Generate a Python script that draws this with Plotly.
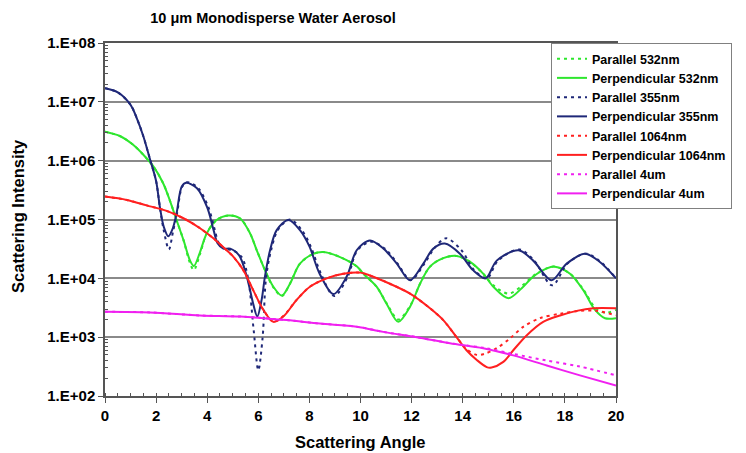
import plotly.graph_objects as go

# ---------------- data ----------------
# 355 nm perpendicular (solid) and parallel (dotted)
x_perp355 = [0, 0.5, 1.0, 1.25, 1.5, 1.75, 2.0, 2.15, 2.3, 2.48, 2.65, 2.8, 3.0, 3.17, 3.6, 4.0,
             4.25, 4.4, 4.63, 4.9, 5.25, 5.55, 5.8, 5.96, 6.13, 6.26, 6.46, 6.72, 7.18, 7.63,
             8.0, 8.4, 8.94, 9.46, 9.85, 10.37, 10.9, 11.42, 11.94, 12.46, 12.85, 13.3, 13.9,
             14.4, 14.9, 15.33, 16.18, 16.76, 17.48, 18.07, 18.79, 19.37, 20]
y_perp355 = [1.7e7, 1.45e7, 8.9e6, 5.2e6, 2.6e6, 1.1e6, 4.5e5, 1.6e5, 7.5e4, 5.2e4, 7.0e4, 1.26e5,
             3.6e5, 4.2e5, 3.4e5, 1.6e5, 6.6e4, 4.0e4, 3.2e4, 3.2e4, 2.45e4, 1.07e4, 3.7e3,
             2.25e3, 4.3e3, 1.07e4, 3.0e4, 6.6e4, 9.8e4, 6.6e4, 3.5e4, 1.2e4, 5.4e3, 1.07e4,
             3.0e4, 4.4e4, 3.2e4, 1.78e4, 9.3e3, 1.78e4, 3.2e4, 3.9e4, 2.6e4, 1.38e4, 1.0e4,
             2.0e4, 3.0e4, 2.0e4, 9.3e3, 1.78e4, 2.63e4, 1.9e4, 1.0e4]

x_par355 = [0, 0.5, 1.0, 1.25, 1.5, 1.75, 2.0, 2.15, 2.3, 2.5, 2.67, 2.82, 3.02, 3.22, 3.65, 4.05,
            4.3, 4.45, 4.7, 5.0, 5.35, 5.6, 5.82, 6.0, 6.17, 6.3, 6.5, 6.78, 7.25, 7.7,
            8.05, 8.45, 8.97, 9.5, 9.88, 10.42, 10.95, 11.45, 11.96, 12.5, 12.9, 13.35, 13.95,
            14.45, 14.95, 15.38, 16.22, 16.8, 17.5, 18.1, 18.82, 19.4, 20]
y_par355 = [1.7e7, 1.45e7, 8.9e6, 5.2e6, 2.6e6, 1.1e6, 4.5e5, 1.6e5, 6.5e4, 3.1e4, 6.5e4, 1.26e5,
            3.6e5, 4.3e5, 3.4e5, 1.6e5, 6.6e4, 4.0e4, 3.2e4, 3.0e4, 2.3e4, 1.0e4, 1.3e3,
            2.75e2, 1.0e3, 1.0e4, 3.0e4, 6.8e4, 1.0e5, 6.6e4, 3.5e4, 1.2e4, 5.0e3, 1.07e4,
            3.0e4, 4.2e4, 3.2e4, 1.78e4, 9.3e3, 1.78e4, 3.3e4, 4.8e4, 3.0e4, 1.38e4, 1.0e4,
            2.0e4, 3.1e4, 2.0e4, 7.6e3, 1.78e4, 2.63e4, 1.9e4, 1.0e4]

# 532 nm
x_perp532 = [0, 0.6, 1.1, 1.5, 1.9, 2.28, 2.54, 2.8, 3.07, 3.33, 3.48, 3.72, 3.98, 4.37, 4.83,
             5.28, 5.68, 5.94, 6.26, 6.59, 6.92, 7.24, 7.63, 8.15, 8.54, 9.2, 9.85, 10.11, 10.63,
             11.02, 11.48, 11.94, 12.33, 12.72, 13.24, 13.76, 14.29, 14.8, 15.2, 15.79, 16.31,
             16.76, 17.29, 17.61, 18.2, 18.72, 19.18, 19.57, 20]
y_perp532 = [3.1e6, 2.6e6, 1.86e6, 1.26e6, 7.9e5, 4.1e5, 2.1e5, 9.8e4, 4.5e4, 2.0e4, 1.62e4, 2.8e4,
             5.8e4, 9.8e4, 1.17e5, 1.05e5, 5.8e4, 3.0e4, 1.38e4, 7.2e3, 5.1e3, 8.1e3, 1.78e4,
             2.6e4, 2.8e4, 2.3e4, 1.6e4, 1.2e4, 7.2e3, 3.7e3, 1.82e3, 3.3e3, 8.1e3, 1.58e4,
             2.2e4, 2.4e4, 1.9e4, 1.2e4, 7.2e3, 4.6e3, 6.8e3, 1.07e4, 1.48e4, 1.58e4, 1.2e4,
             6.3e3, 2.9e3, 2.1e3, 2.1e3]

x_par532 = x_perp532
y_par532 = [3.1e6, 2.6e6, 1.86e6, 1.26e6, 7.9e5, 4.1e5, 2.1e5, 9.8e4, 4.5e4, 1.8e4, 1.38e4, 2.6e4,
            5.8e4, 9.8e4, 1.17e5, 1.05e5, 5.8e4, 3.0e4, 1.38e4, 7.0e3, 5.0e3, 8.1e3, 1.78e4,
            2.6e4, 2.8e4, 2.3e4, 1.6e4, 1.2e4, 7.2e3, 3.8e3, 2.0e3, 3.4e3, 8.1e3, 1.58e4,
            2.2e4, 2.4e4, 1.9e4, 1.2e4, 7.6e3, 5.5e3, 7.4e3, 1.1e4, 1.48e4, 1.58e4, 1.2e4,
            6.5e3, 3.2e3, 2.6e3, 2.9e3]

# 1064 nm
x_perp1064 = [0, 0.85, 1.63, 2.41, 3.07, 3.72, 4.24, 4.76, 5.02, 5.41, 5.8, 6.2, 6.59, 6.98, 7.5,
              8.02, 8.68, 9.33, 10.0, 10.37, 11.15, 11.94, 12.72, 13.24, 13.76, 14.15, 14.55,
              14.94, 15.13, 15.59, 15.98, 16.5, 17.15, 17.81, 18.46, 19.11, 20]
y_perp1064 = [2.45e5, 2.15e5, 1.74e5, 1.4e5, 1.05e5, 7.1e4, 4.8e4, 3.0e4, 2.34e4, 1.38e4, 6.3e3,
              2.9e3, 1.82e3, 2.24e3, 4.3e3, 7.2e3, 1.0e4, 1.2e4, 1.25e4, 1.12e4, 8.1e3, 5.5e3,
              3.1e3, 1.95e3, 1.0e3, 6.0e2, 4.1e2, 3.1e2, 3.05e2, 3.8e2, 6.0e2, 1.07e3, 1.82e3,
              2.34e3, 2.8e3, 3.1e3, 3.1e3]

x_par1064 = [0, 0.85, 1.63, 2.41, 3.07, 3.72, 4.24, 4.76, 5.02, 5.41, 5.8, 6.2, 6.59, 6.98, 7.5,
             8.02, 8.68, 9.33, 10.0, 10.37, 11.15, 11.94, 12.72, 13.24, 13.76, 14.15, 14.55,
             14.87, 15.33, 15.85, 16.37, 17.02, 17.81, 18.59, 19.24, 20]
y_par1064 = [2.45e5, 2.15e5, 1.74e5, 1.4e5, 1.05e5, 7.1e4, 4.8e4, 3.0e4, 2.34e4, 1.38e4, 6.3e3,
             2.9e3, 1.85e3, 2.3e3, 4.3e3, 7.2e3, 1.0e4, 1.2e4, 1.25e4, 1.12e4, 8.1e3, 5.5e3,
             3.1e3, 1.95e3, 1.0e3, 6.3e2, 5.0e2, 5.25e2, 6.5e2, 9.5e2, 1.5e3, 2.1e3, 2.5e3,
             2.8e3, 2.8e3, 2.35e3]

# 4 um
x_perp4 = [0, 1.76, 3.72, 5.3, 7.11, 8.41, 9.85, 10.89, 12.2, 13.5, 14.8, 15.98, 17.29, 18.59, 20]
y_perp4 = [2.7e3, 2.63e3, 2.34e3, 2.24e3, 1.95e3, 1.7e3, 1.51e3, 1.23e3, 1.0e3, 7.9e2, 6.5e2,
           4.9e2, 3.3e2, 2.24e2, 1.5e2]
x_par4 = x_perp4
y_par4 = [2.7e3, 2.63e3, 2.34e3, 2.24e3, 1.95e3, 1.7e3, 1.51e3, 1.23e3, 1.0e3, 7.9e2, 6.6e2,
          5.2e2, 4.0e2, 3.16e2, 2.24e2]

y_tickvals = [1e2, 1e3, 1e4, 1e5, 1e6, 1e7, 1e8]
y_ticktext = ["1.E+02", "1.E+03", "1.E+04", "1.E+05", "1.E+06", "1.E+07", "1.E+08"]

# ---------------- styling ----------------
GREEN = "#2EE62E"
BLUE = "#1F2878"
RED = "#FF2020"
MAGENTA = "#F020F0"
DOT = "3px,4px"
FONT = "Arial, Liberation Sans, sans-serif"

series = [
    ("Parallel 532nm", x_par532, y_par532, GREEN, DOT),
    ("Perpendicular 532nm", x_perp532, y_perp532, GREEN, "solid"),
    ("Parallel 355nm", x_par355, y_par355, BLUE, DOT),
    ("Perpendicular 355nm", x_perp355, y_perp355, BLUE, "solid"),
    ("Parallel 1064nm", x_par1064, y_par1064, RED, DOT),
    ("Perpendicular 1064nm", x_perp1064, y_perp1064, RED, "solid"),
    ("Parallel 4um", x_par4, y_par4, MAGENTA, DOT),
    ("Perpendicular 4um", x_perp4, y_perp4, MAGENTA, "solid"),
]

fig = go.Figure()
for name, xs, ys, col, dash in series:
    fig.add_trace(go.Scatter(
        x=xs, y=ys, mode="lines", name=name,
        line=dict(color=col, width=2, dash=dash, shape="spline", smoothing=0.9),
    ))

minor_vals = [m * 10 ** e for e in range(2, 8) for m in range(2, 10)]

fig.update_layout(
    width=746, height=453,
    margin=dict(l=105, r=130, t=43, b=57),
    paper_bgcolor="white", plot_bgcolor="white",
    font=dict(family=FONT, color="black"),
    title=dict(text="<b>10 \u03bcm Monodisperse Water Aerosol</b>",
               x=273 / 746, xanchor="center", y=1 - 18 / 453, yanchor="middle",
               font=dict(family=FONT, size=14.5, color="black")),
    xaxis=dict(range=[0, 20], tickmode="linear", tick0=0, dtick=2,
               ticks="outside", ticklen=5, tickcolor="#555", tickwidth=1,
               showline=True, linecolor="#555", linewidth=1.5, mirror=True,
               showgrid=False, zeroline=False,
               tickfont=dict(family=FONT, size=15, color="black", weight="bold"),
               minor=dict(tickmode="linear", tick0=0, dtick=0.5, ticks="inside",
                          ticklen=3, tickcolor="#555", showgrid=False)),
    yaxis=dict(type="log", range=[2, 8], tickmode="array", tickvals=y_tickvals,
               ticktext=y_ticktext, ticks="outside", ticklen=5, tickcolor="#555",
               showline=True, linecolor="#555", linewidth=1.5, mirror=True,
               showgrid=True, gridcolor="#8a8a8a", gridwidth=1.5, zeroline=False,
               tickfont=dict(family=FONT, size=15, color="black", weight="bold"),
               minor=dict(tickmode="array", tickvals=minor_vals, ticks="inside",
                          ticklen=3, tickcolor="#555", showgrid=False)),
    legend=dict(x=(551 - 105) / 511, y=1.0, xanchor="left", yanchor="top",
                bgcolor="white", bordercolor="#808080", borderwidth=1,
                font=dict(family=FONT, size=12.5, color="black", weight="bold"),
                tracegroupgap=0),
    showlegend=True,
    annotations=[
        dict(text="<b>Scattering Angle</b>", xref="paper", yref="paper",
             x=0.5, y=(396 - 442) / 353, xanchor="center", yanchor="middle",
             showarrow=False, font=dict(family=FONT, size=16.5, color="black")),
        dict(text="<b>Scattering Intensity</b>", xref="paper", yref="paper",
             x=(18 - 105) / 511, y=0.51, xanchor="center", yanchor="middle",
             textangle=-90, showarrow=False,
             font=dict(family=FONT, size=16.5, color="black")),
    ],
)

fig.write_html("out.html")
